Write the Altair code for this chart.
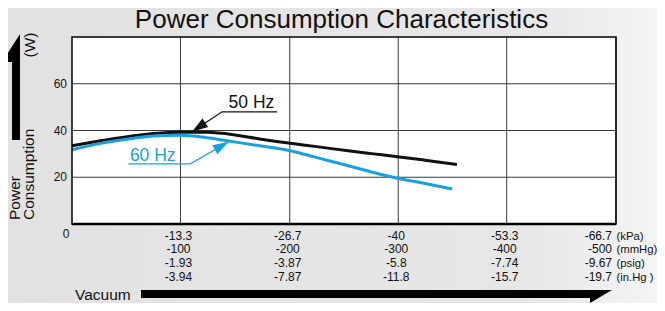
import altair as alt
import pandas as pd

W, H = 544, 187
PAD = {"left": 64, "top": 29, "right": 41, "bottom": 79}
FONT = "Liberation Sans"

title_text = "Power Consumption  Characteristics"

# x axis (vacuum) ticks and multi-unit labels
kpa_ticks = [-13.3, -26.7, -40.0, -53.3, -66.7]
kpa_labels = ["-13.3", "-26.7", "-40", "-53.3", "-66.7"]
mmhg_labels = ["-100", "-200", "-300", "-400", "-500"]
psig_labels = ["-1.93", "-3.87", "-5.8", "-7.74", "-9.67"]
inhg_labels = ["-3.94", "-7.87", "-11.8", "-15.7", "-19.7"]
unit_labels = ["(kPa)", "(mmHg)", "(psig)", "(in.Hg )"]

# y axis (power, W)
w_ticks = [20, 40, 60]
w_labels = ["20", "40", "60"]

# curves
hz50_kpa = [0, -3.5, -7.6, -10, -13.3, -16.6, -19.8, -23, -26.8, -30, -34.1, -37, -39.9, -43.5, -47.2]
hz50_w = [33.5, 35.6, 37.8, 38.7, 39.3, 39.2, 38.2, 36.4, 34.5, 33.1, 31.2, 30.0, 28.8, 27.2, 25.5]
hz60_kpa = [0, -3.5, -7.6, -10, -13.3, -16, -19, -23, -26.8, -28, -31, -34.1, -37.8, -39.9, -43, -46.6]
hz60_w = [31.8, 34.5, 36.7, 37.6, 38.0, 37.2, 35.6, 33.5, 31.3, 30.3, 27.5, 24.7, 21.3, 19.6, 17.5, 15.0]

series_names = ["50 Hz", "60 Hz"]
series_colors = ["#111111", "#1a9fe3"]

# annotation anchors (data units)
label_kpa = [-22.0, -9.9]
label_w = [49.6, 27.1]
underline_start_kpa = [-25.15, -6.91]
underline_end_kpa = [-18.4, -14.52]
underline_w = [48.0, 25.7]
tip_kpa = [-14.72, -19.21]
tip_w = [39.5, 35.2]
tip_angle = [236, 60]

x_scale = alt.Scale(domain=[0, -66.7], nice=False, zero=False)
y_scale = alt.Scale(domain=[0, 80], nice=False, zero=False)
color_enc = alt.Color("series:N", scale=alt.Scale(domain=series_names, range=series_colors), legend=None)


def X(field):
    return alt.X(field, type="quantitative", scale=x_scale, axis=None)


def Y(field):
    return alt.Y(field, type="quantitative", scale=y_scale, axis=None)


one = pd.DataFrame({"a": [0]})

df_lines = pd.concat([
    pd.DataFrame({"kpa": hz50_kpa, "w": hz50_w, "series": "50 Hz"}),
    pd.DataFrame({"kpa": hz60_kpa, "w": hz60_w, "series": "60 Hz"}),
])

lead_rows = []
for i, s in enumerate(series_names):
    lead_rows.append({"series": s, "o": 0, "kpa": underline_start_kpa[i], "w": underline_w[i]})
    lead_rows.append({"series": s, "o": 1, "kpa": underline_end_kpa[i], "w": underline_w[i]})
    lead_rows.append({"series": s, "o": 2, "kpa": tip_kpa[i], "w": tip_w[i]})
df_lead = pd.DataFrame(lead_rows)
df_tips = pd.DataFrame({"series": series_names, "kpa": tip_kpa, "w": tip_w, "ang": tip_angle})
df_lab = pd.DataFrame({"series": series_names, "kpa": label_kpa, "w": label_w})

df_xt = pd.DataFrame({
    "kpa": kpa_ticks,
    "txt": ["\n".join(t) for t in zip(kpa_labels, mmhg_labels, psig_labels, inhg_labels)],
    "last": [False] * (len(kpa_ticks) - 1) + [True],
})
df_units = pd.DataFrame({"kpa": [kpa_ticks[-1]], "txt": ["\n".join(unit_labels)]})
df_yt = pd.DataFrame({"w": w_ticks, "txt": w_labels})

# background
bg = alt.Chart(one).mark_rect(
    fill=alt.Gradient(
        gradient="linear",
        stops=[alt.GradientStop(color="#e2e2e2", offset=0),
               alt.GradientStop(color="#e7e7e7", offset=0.8),
               alt.GradientStop(color="#f4f4f4", offset=1)],
        x1=0, x2=1, y1=0, y2=0,
    )
).encode(x=alt.value(-PAD["left"]), x2=alt.value(W + PAD["right"]),
         y=alt.value(-PAD["top"]), y2=alt.value(H + PAD["bottom"]))

plot_bg = alt.Chart(one).mark_rect(fill="white").encode(
    x=alt.value(0), x2=alt.value(W), y=alt.value(0), y2=alt.value(H))

vgrid = alt.Chart(df_xt).mark_rule(color="#3a3a3a", strokeWidth=1).encode(
    x=X("kpa"), y=alt.value(0), y2=alt.value(H))
hgrid = alt.Chart(df_yt).mark_rule(color="#3a3a3a", strokeWidth=1).encode(
    y=Y("w"), x=alt.value(0), x2=alt.value(W))

border = alt.Chart(one).mark_rect(fillOpacity=0, stroke="black", strokeWidth=1.5).encode(
    x=alt.value(0), x2=alt.value(W), y=alt.value(0), y2=alt.value(H))
bottom = alt.Chart(one).mark_rule(color="black", strokeWidth=2.5).encode(
    x=alt.value(0), x2=alt.value(W), y=alt.value(H))

lines = alt.Chart(df_lines).mark_line(strokeWidth=3, interpolate="monotone").encode(
    x=X("kpa"), y=Y("w"), color=color_enc)

leaders = alt.Chart(df_lead).mark_line(strokeWidth=1.3).encode(
    x=X("kpa"), y=Y("w"), color=color_enc, order=alt.Order("o:Q"))
heads = alt.Chart(df_tips).mark_point(
    shape="M0,0L0.32,1L-0.32,1Z", size=1024, filled=True, opacity=1
).encode(x=X("kpa"), y=Y("w"), color=color_enc, angle=alt.Angle("ang:Q", scale=None))
labels = alt.Chart(df_lab).mark_text(
    font=FONT, fontSize=17.5, align="center", baseline="alphabetic"
).encode(x=X("kpa"), y=Y("w"), text="series:N", color=color_enc)

ytext = alt.Chart(df_yt).mark_text(
    font=FONT, fontSize=12, align="right", baseline="middle", color="#111"
).encode(x=alt.value(-5), y=Y("w"), text="txt:N")
zero = alt.Chart(one).mark_text(
    font=FONT, fontSize=12, align="center", baseline="middle", color="#111", text="0"
).encode(x=alt.value(-6), y=alt.value(196.7))

xtext_mid = alt.Chart(df_xt).transform_filter("!datum.last").mark_text(
    font=FONT, fontSize=12, align="center", baseline="alphabetic", lineBreak="\n",
    lineHeight=13.7, dx=-2, color="#111"
).encode(x=X("kpa"), y=alt.value(202.8), text="txt:N")
xtext_last = alt.Chart(df_xt).transform_filter("datum.last").mark_text(
    font=FONT, fontSize=12, align="right", baseline="alphabetic", lineBreak="\n",
    lineHeight=13.7, dx=-4, color="#111"
).encode(x=X("kpa"), y=alt.value(202.8), text="txt:N")
units = alt.Chart(df_units).mark_text(
    font=FONT, fontSize=11.3, align="left", baseline="alphabetic", lineBreak="\n",
    lineHeight=13.7, dx=0.5, color="#111"
).encode(x=X("kpa"), y=alt.value(202.8), text="txt:N")

title = alt.Chart(one).mark_text(
    font=FONT, fontSize=26, align="center", baseline="alphabetic", color="#111", text=title_text
).encode(x=alt.value(269.5), y=alt.value(-9.5))

ylab1 = alt.Chart(one).mark_text(
    font=FONT, fontSize=15.5, align="left", baseline="alphabetic", angle=270, color="#111", text="Power"
).encode(x=alt.value(-52.5), y=alt.value(183))
ylab2 = alt.Chart(one).mark_text(
    font=FONT, fontSize=15.5, align="left", baseline="alphabetic", angle=270, color="#111", text="Consumption"
).encode(x=alt.value(-38.5), y=alt.value(183))
yunit = alt.Chart(one).mark_text(
    font=FONT, fontSize=15.5, align="center", baseline="middle", angle=270, color="#111", text="(W)"
).encode(x=alt.value(-42), y=alt.value(8))

up_arrow = alt.Chart(one).mark_point(
    shape="M0.170,-1L0.170,1L0.019,1L0.019,-0.472L-0.170,-0.472Z",
    size=11236, filled=True, opacity=1, color="black"
).encode(x=alt.value(-61), y=alt.value(50))
# vacuum arrow: shaft y 253..261 (plot), head to 266, x 69..540
vac_arrow = alt.Chart(one).mark_point(
    shape="M-1,-0.0382L1,-0.0382L0.9066,0.017L0.9066,-0.0042L-1,-0.0042Z",
    size=221841, filled=True, opacity=1, color="black"
).encode(x=alt.value(304.5), y=alt.value(262))
vac_text = alt.Chart(one).mark_text(
    font=FONT, fontSize=15.5, align="left", baseline="alphabetic", color="#111", text="Vacuum"
).encode(x=alt.value(3), y=alt.value(262.5))

chart = alt.layer(
    bg, plot_bg, vgrid, hgrid, lines, border, bottom, leaders, heads, labels,
    ytext, zero, xtext_mid, xtext_last, units, title, ylab1, ylab2, yunit,
    up_arrow, vac_arrow, vac_text,
).properties(
    width=W, height=H, padding=PAD, autosize="none", background="#e6e6e6"
).configure_view(stroke="transparent")

chart.save("out.html", embed_options={"renderer": "svg", "actions": False})
